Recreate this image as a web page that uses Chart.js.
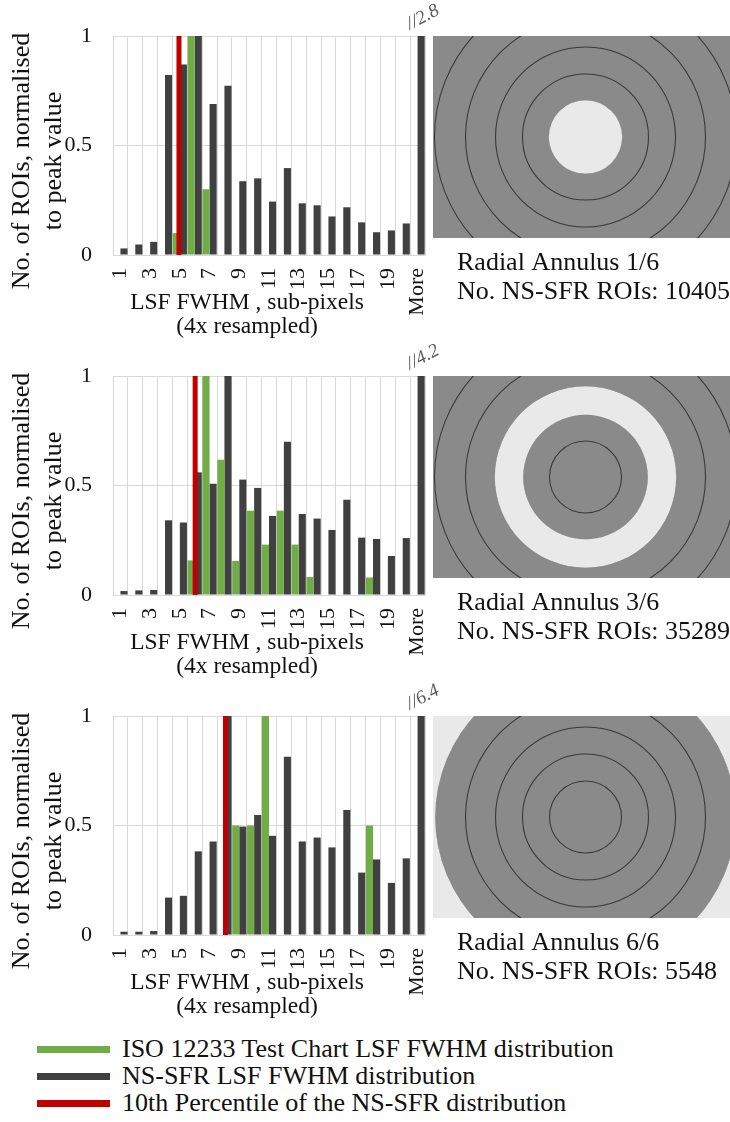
<!DOCTYPE html>
<html>
<head>
<meta charset="utf-8">
<script src="https://cdn.jsdelivr.net/npm/chart.js@4.4.1/dist/chart.umd.min.js"></script>
<style>
  html, body { margin: 0; padding: 0; background: #fff; }
  #page { position: relative; width: 730px; height: 1122px; overflow: hidden;
          font-family: "Liberation Serif", "Times New Roman", serif; }
  canvas.panel { position: absolute; left: 0; }
  .key { position: absolute; left: 0; width: 730px; height: 26px; }
  .key .sw { position: absolute; left: 37px; top: 10px; width: 73px; height: 7px; }
  .key .tx { position: absolute; left: 122px; top: 0; line-height: 26px; font-size: 26px; color: #111;
             white-space: nowrap; }
</style>
</head>
<body>
<div id="page">
  <canvas id="panel1" class="panel" width="730" height="340" style="top:0px"></canvas>
  <canvas id="panel3" class="panel" width="730" height="340" style="top:340px"></canvas>
  <canvas id="panel6" class="panel" width="730" height="340" style="top:680px"></canvas>

  <div class="key" style="top:1036px"><div class="sw" style="background:#70ad47"></div><div class="tx">ISO 12233 Test Chart LSF FWHM distribution</div></div>
  <div class="key" style="top:1063px"><div class="sw" style="background:#404040"></div><div class="tx">NS-SFR LSF FWHM distribution</div></div>
  <div class="key" style="top:1090px"><div class="sw" style="background:#c00000"></div><div class="tx">10th Percentile of the NS-SFR distribution</div></div>
</div>

<script>
// ---- data -------------------------------------------------------------
const categories = ['1','2','3','4','5','6','7','8','9','10','11','12','13','14','15','16','17','18','19','20','More'];

// Radial annulus 1/6
const isoAnnulus1   = [0, 0, 0, 0, 0.10, 1.00, 0.30, 0, 0, 0, 0, 0, 0, 0, 0, 0, 0, 0, 0, 0, 0];
const nssfrAnnulus1 = [0.030, 0.048, 0.060, 0.822, 0.870, 1.000, 0.690, 0.773, 0.337, 0.350, 0.244,
                       0.397, 0.236, 0.227, 0.176, 0.218, 0.149, 0.104, 0.112, 0.144, 2.8];
const p10Annulus1 = 4.94;

// Radial annulus 3/6
const isoAnnulus3   = [0, 0, 0, 0, 0, 0.158, 1.00, 0.618, 0.156, 0.385, 0.230, 0.385, 0.230, 0.082,
                       0, 0, 0, 0.080, 0, 0, 0];
const nssfrAnnulus3 = [0.018, 0.021, 0.023, 0.341, 0.331, 0.560, 0.508, 1.000, 0.527, 0.489, 0.361,
                       0.700, 0.370, 0.349, 0.297, 0.435, 0.262, 0.256, 0.178, 0.260, 4.2];
const p10Annulus3 = 6.03;

// Radial annulus 6/6
const isoAnnulus6   = [0, 0, 0, 0, 0, 0, 0, 0, 0.50, 0.50, 1.00, 0, 0, 0, 0, 0, 0, 0.50, 0, 0, 0];
const nssfrAnnulus6 = [0.015, 0.015, 0.018, 0.171, 0.179, 0.382, 0.427, 1.000, 0.495, 0.548, 0.453,
                       0.814, 0.427, 0.445, 0.400, 0.571, 0.285, 0.345, 0.238, 0.350, 6.4];
const p10Annulus6 = 8.07;

const yTickValues = [0, 0.5, 1];
const roiCounts = { 1: 10405, 3: 35289, 6: 5548 };

const yCaption = ['No. of ROIs, normalised', 'to peak value'];
const xCaption = ['LSF FWHM , sub-pixels', '(4x resampled)'];
const seriesNames = ['ISO 12233 Test Chart LSF FWHM distribution',
                     'NS-SFR LSF FWHM distribution',
                     '10th Percentile of the NS-SFR distribution'];

// ---- styling ----------------------------------------------------------
const SERIF = '"Liberation Serif", "Times New Roman", serif';
const INK = '#111111';
const GREEN = '#70ad47';
const DARK = '#404040';
const RED = '#c00000';
const GRID = '#d9d9d9';
const MAP_GRAY = '#8a8a8a';
const MAP_LIGHT = '#e9e9e9';
const RING_RADII = [36, 63, 90, 120, 151];

// Annotations drawn around each histogram: axis captions, the radial
// annulus map with its caption, and the value of bars cut off at the top.
const panelArt = {
  id: 'panelArt',
  afterDraw(chart, args, opts) {
    const ctx = chart.ctx;
    const area = chart.chartArea;

    // vertical axis caption
    ctx.save();
    ctx.fillStyle = INK;
    ctx.font = `26px ${SERIF}`;
    ctx.textAlign = 'center';
    ctx.textBaseline = 'middle';
    ctx.translate(22, 161);
    ctx.rotate(-Math.PI / 2);
    yCaption.forEach((t, i) => ctx.fillText(t, 0, i * 32.5));
    ctx.restore();

    // horizontal axis caption
    ctx.save();
    ctx.fillStyle = INK;
    ctx.font = `23.5px ${SERIF}`;
    ctx.textAlign = 'center';
    ctx.textBaseline = 'alphabetic';
    xCaption.forEach((t, i) => ctx.fillText(t, 247, 309 + i * 24));
    ctx.restore();

    // truncated bars: write their true value above the plot
    const yMax = chart.scales.y.max;
    chart.data.datasets.forEach((ds, di) => {
      if (ds.type === 'line') return;
      const meta = chart.getDatasetMeta(di);
      ds.data.forEach((v, i) => {
        if (v > yMax) {
          const bar = meta.data[i];
          ctx.save();
          ctx.translate(bar.x - 11, area.top - 6);
          ctx.rotate(-28 * Math.PI / 180);
          ctx.font = `italic 19px ${SERIF}`;
          ctx.fillStyle = '#5a5a5a';
          ctx.textBaseline = 'alphabetic';
          ctx.fillText('//' + v, 0, 0);
          ctx.restore();
        }
      });
    });

    // radial annulus map
    const n = opts.annulus;
    const x0 = 433, y0 = 36, w = 297, h = 202, cx = 585.5, cy = 137;
    ctx.save();
    ctx.beginPath();
    ctx.rect(x0, y0, w, h);
    ctx.clip();
    ctx.fillStyle = MAP_GRAY;
    ctx.fillRect(x0, y0, w, h);
    ctx.strokeStyle = '#3a3a3a';
    ctx.lineWidth = 1.1;
    RING_RADII.forEach(r => {
      ctx.beginPath();
      ctx.arc(cx, cy, r, 0, Math.PI * 2);
      ctx.stroke();
    });
    const inner = n === 1 ? 0 : RING_RADII[n - 2];
    const outer = n === 6 ? 1000 : RING_RADII[n - 1];
    ctx.fillStyle = MAP_LIGHT;
    ctx.beginPath();
    ctx.arc(cx, cy, outer + 0.7, 0, Math.PI * 2, false);
    if (inner > 0) {
      ctx.moveTo(cx + inner - 0.7, cy);
      ctx.arc(cx, cy, inner - 0.7, 0, Math.PI * 2, true);
    }
    ctx.fill('nonzero');
    ctx.restore();

    ctx.save();
    ctx.fillStyle = INK;
    ctx.font = `26px ${SERIF}`;
    ctx.textAlign = 'left';
    ctx.textBaseline = 'alphabetic';
    ctx.fillText(`Radial Annulus ${n}/6`, 457, 270);
    ctx.fillText(`No. NS-SFR ROIs: ${opts.rois}`, 457, 299);
    ctx.restore();
  }
};

function makePanel(id, iso, nssfr, p10, annulus) {
  return new Chart(document.getElementById(id), {
    type: 'bar',
    data: {
      labels: categories,
      datasets: [
        {
          type: 'line',
          label: seriesNames[2],
          data: [{ x: p10, y: 0 }, { x: p10, y: 1 }],
          xAxisID: 'xr',
          yAxisID: 'y',
          borderColor: RED,
          borderWidth: 5,
          borderCapStyle: 'butt',
          pointRadius: 0,
          fill: false,
          order: 0
        },
        { label: seriesNames[0], data: iso, backgroundColor: GREEN, order: 1, clip: 0 },
        { label: seriesNames[1], data: nssfr, backgroundColor: DARK, order: 2, clip: 0 }
      ]
    },
    options: {
      responsive: false,
      animation: false,
      devicePixelRatio: 1,
      layout: { padding: { left: 0, top: 36, right: 305, bottom: 0 } },
      datasets: { bar: { barThickness: 7.1, inflateAmount: 0 } },
      plugins: {
        legend: { display: false },
        tooltip: { enabled: false },
        panelArt: { annulus: annulus, rois: roiCounts[annulus] }
      },
      scales: {
        x: {
          type: 'category',
          offset: true,
          grid: { offset: true, color: GRID, drawTicks: false },
          border: { color: GRID },
          ticks: {
            autoSkip: false,
            minRotation: 90,
            maxRotation: 90,
            padding: 13,
            color: INK,
            font: { family: SERIF, size: 22 },
            callback(value, index) { return index % 2 === 0 ? this.getLabelForValue(value) : ''; }
          },
          afterFit(scale) { scale.height = 85; }
        },
        // hidden numeric twin of the category axis (category k sits at value k)
        xr: {
          type: 'linear',
          display: false,
          offset: false,
          grid: { offset: false },
          bounds: 'data',
          min: 0.5,
          max: 21.5
        },
        y: {
          min: 0,
          max: 1,
          afterBuildTicks(scale) { scale.ticks = yTickValues.map(v => ({ value: v })); },
          ticks: {
            padding: 21,
            color: INK,
            font: { family: SERIF, size: 22 },
            callback(value) { return String(value); }
          },
          grid: { color: GRID, drawTicks: false },
          border: { display: false },
          afterFit(scale) { scale.width = 113; }
        }
      }
    },
    plugins: [panelArt]
  });
}

makePanel('panel1', isoAnnulus1, nssfrAnnulus1, p10Annulus1, 1);
makePanel('panel3', isoAnnulus3, nssfrAnnulus3, p10Annulus3, 3);
makePanel('panel6', isoAnnulus6, nssfrAnnulus6, p10Annulus6, 6);
</script>
</body>
</html>
